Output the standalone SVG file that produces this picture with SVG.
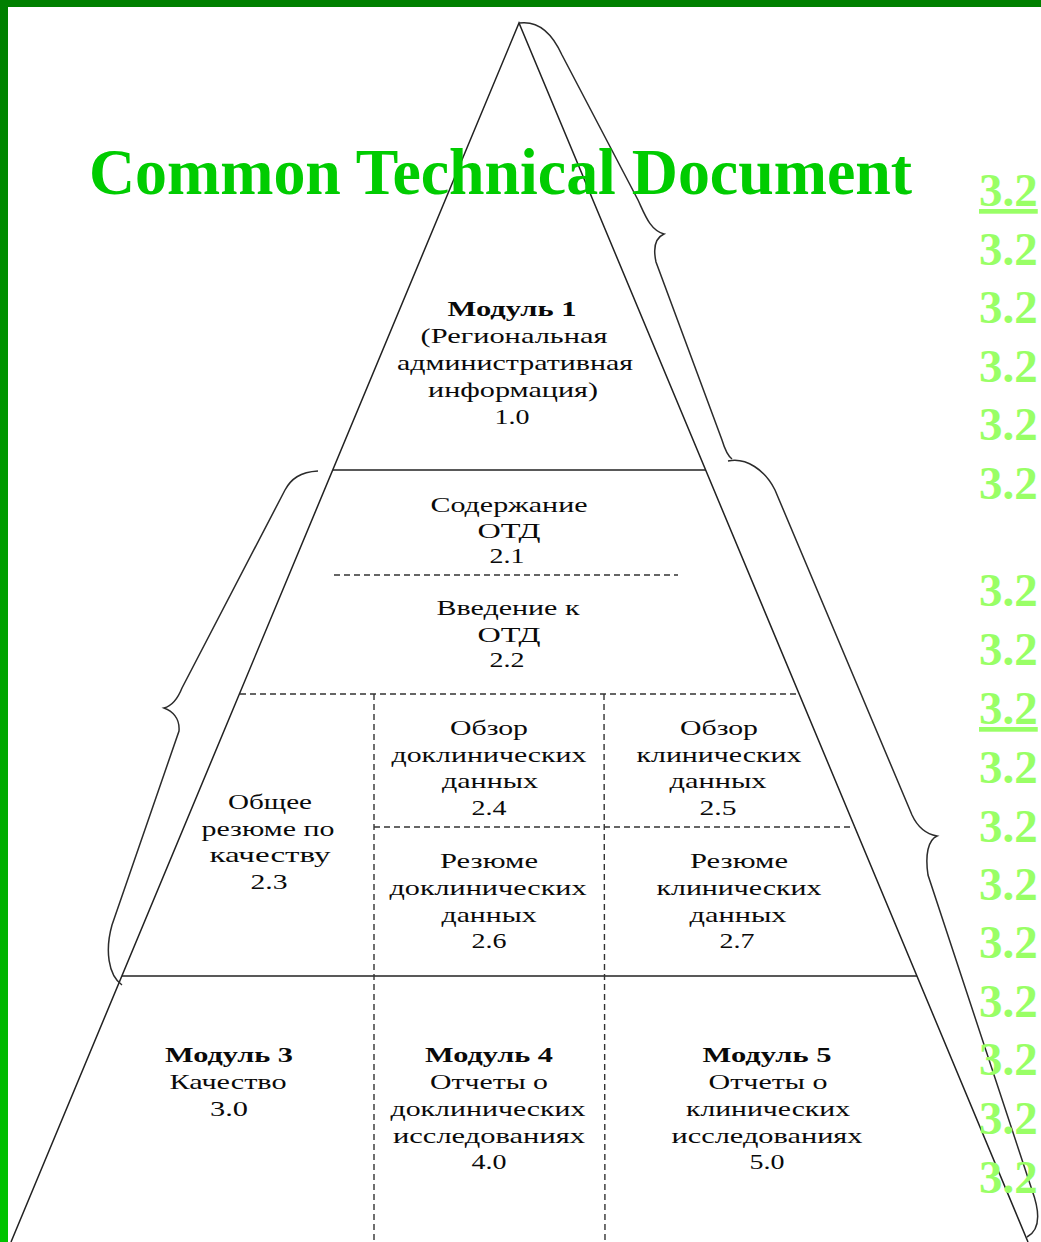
<svg xmlns="http://www.w3.org/2000/svg" width="1041" height="1242" viewBox="0 0 1041 1242">
  <defs>
    <linearGradient id="leftBar" x1="0" y1="0" x2="0" y2="1">
      <stop offset="0" stop-color="#007F00"/>
      <stop offset="1" stop-color="#00C400"/>
    </linearGradient>
    <style>
      .ln { fill: none; stroke: #222; stroke-width: 1.5; }
      .ds { fill: none; stroke: #333; stroke-width: 1.4; stroke-dasharray: 6 4; }
      .br { fill: none; stroke: #2b2b2b; stroke-width: 1.5; }
      .t { font-family: "Liberation Serif", "Times New Roman", serif; font-size: 21px; fill: #0a0a0a; text-anchor: middle; }
      .b { font-weight: bold; }
      .title { font-family: "Liberation Serif", "Times New Roman", serif; font-size: 66px; font-weight: bold; fill: #00CC00; }
      .sec { font-family: "Liberation Serif", "Times New Roman", serif; font-size: 47px; font-weight: bold; fill: #99FF66; }
    </style>
  </defs>

  <rect x="0" y="0" width="1041" height="1242" fill="#ffffff"/>

  <g id="frame">
    <rect x="0" y="0" width="1041" height="7" fill="#008000"/>
    <rect x="0" y="0" width="8" height="1242" fill="url(#leftBar)"/>
  </g>

  <g id="connectors">
    <polyline class="ln" points="11,1242 519,23 1028,1242"/>
    <line class="ln" x1="333" y1="470" x2="706" y2="470"/>
    <line class="ds" x1="334" y1="575" x2="678" y2="575"/>
    <line class="ds" x1="240" y1="694" x2="799" y2="694"/>
    <line class="ds" x1="374" y1="827" x2="855" y2="827"/>
    <line class="ln" x1="122" y1="976" x2="917" y2="976"/>
    <line class="ds" x1="374" y1="694" x2="374" y2="1242"/>
    <line class="ds" x1="604" y1="694" x2="605" y2="1242"/>
    <path id="brace-left" class="br" d="M 318 471 C 300 472, 291 479, 285 490 L 182 688 C 178 698, 172 706, 164 708 C 172 711, 180 718, 179 731 L 112 925 C 105 950, 108 975, 122 985"/>
    <path id="brace-right-top" class="br" d="M 519 23 C 540 20, 553 35, 562 55 L 638 200 C 645 215, 650 230, 664 234 C 655 238, 653 248, 656 262 L 722 440 C 725 450, 728 456, 732 459"/>
    <path id="brace-right-bottom" class="br" d="M 728 461 C 746 457, 765 470, 775 490 L 912 815 C 918 828, 926 834, 937 836 C 928 840, 925 855, 928 875 L 1032 1190 C 1040 1212, 1040 1230, 1027 1237"/>
  </g>

  <g id="title">
    <text class="title" x="89" y="194" textLength="823" lengthAdjust="spacingAndGlyphs">Common Technical Document</text>
  </g>

  <g id="module1">
    <text class="t b" x="512" y="316" textLength="129" lengthAdjust="spacingAndGlyphs">Модуль 1</text>
    <text class="t" x="514" y="343" textLength="187" lengthAdjust="spacingAndGlyphs">(Региональная</text>
    <text class="t" x="515" y="370" textLength="236" lengthAdjust="spacingAndGlyphs">административная</text>
    <text class="t" x="513" y="397" textLength="170" lengthAdjust="spacingAndGlyphs">информация)</text>
    <text class="t" x="512" y="424" textLength="35" lengthAdjust="spacingAndGlyphs">1.0</text>
  </g>

  <g id="ctd-2-1">
    <text class="t" x="509" y="512" textLength="157" lengthAdjust="spacingAndGlyphs">Содержание</text>
    <text class="t" x="509" y="538" textLength="63" lengthAdjust="spacingAndGlyphs">ОТД</text>
    <text class="t" x="507" y="563" textLength="35" lengthAdjust="spacingAndGlyphs">2.1</text>
  </g>

  <g id="ctd-2-2">
    <text class="t" x="508" y="615" textLength="143" lengthAdjust="spacingAndGlyphs">Введение к</text>
    <text class="t" x="509" y="642" textLength="63" lengthAdjust="spacingAndGlyphs">ОТД</text>
    <text class="t" x="507" y="667" textLength="35" lengthAdjust="spacingAndGlyphs">2.2</text>
  </g>

  <g id="ctd-2-3">
    <text class="t" x="270" y="809" textLength="84" lengthAdjust="spacingAndGlyphs">Общее</text>
    <text class="t" x="268" y="836" textLength="133" lengthAdjust="spacingAndGlyphs">резюме по</text>
    <text class="t" x="270" y="862" textLength="121" lengthAdjust="spacingAndGlyphs">качеству</text>
    <text class="t" x="269" y="889" textLength="37" lengthAdjust="spacingAndGlyphs">2.3</text>
  </g>

  <g id="ctd-2-4">
    <text class="t" x="489" y="735" textLength="78" lengthAdjust="spacingAndGlyphs">Обзор</text>
    <text class="t" x="489" y="762" textLength="195" lengthAdjust="spacingAndGlyphs">доклинических</text>
    <text class="t" x="490" y="788" textLength="96" lengthAdjust="spacingAndGlyphs">данных</text>
    <text class="t" x="489" y="815" textLength="35" lengthAdjust="spacingAndGlyphs">2.4</text>
  </g>

  <g id="ctd-2-5">
    <text class="t" x="719" y="735" textLength="78" lengthAdjust="spacingAndGlyphs">Обзор</text>
    <text class="t" x="719" y="762" textLength="165" lengthAdjust="spacingAndGlyphs">клинических</text>
    <text class="t" x="718" y="788" textLength="97" lengthAdjust="spacingAndGlyphs">данных</text>
    <text class="t" x="718" y="815" textLength="37" lengthAdjust="spacingAndGlyphs">2.5</text>
  </g>

  <g id="ctd-2-6">
    <text class="t" x="489" y="868" textLength="98" lengthAdjust="spacingAndGlyphs">Резюме</text>
    <text class="t" x="488" y="895" textLength="197" lengthAdjust="spacingAndGlyphs">доклинических</text>
    <text class="t" x="489" y="922" textLength="95" lengthAdjust="spacingAndGlyphs">данных</text>
    <text class="t" x="489" y="948" textLength="35" lengthAdjust="spacingAndGlyphs">2.6</text>
  </g>

  <g id="ctd-2-7">
    <text class="t" x="739" y="868" textLength="98" lengthAdjust="spacingAndGlyphs">Резюме</text>
    <text class="t" x="739" y="895" textLength="165" lengthAdjust="spacingAndGlyphs">клинических</text>
    <text class="t" x="738" y="922" textLength="97" lengthAdjust="spacingAndGlyphs">данных</text>
    <text class="t" x="737" y="948" textLength="35" lengthAdjust="spacingAndGlyphs">2.7</text>
  </g>

  <g id="module3">
    <text class="t b" x="229" y="1062" textLength="128" lengthAdjust="spacingAndGlyphs">Модуль 3</text>
    <text class="t" x="228" y="1089" textLength="117" lengthAdjust="spacingAndGlyphs">Качество</text>
    <text class="t" x="229" y="1116" textLength="38" lengthAdjust="spacingAndGlyphs">3.0</text>
  </g>

  <g id="module4">
    <text class="t b" x="489" y="1062" textLength="128" lengthAdjust="spacingAndGlyphs">Модуль 4</text>
    <text class="t" x="489" y="1089" textLength="118" lengthAdjust="spacingAndGlyphs">Отчеты о</text>
    <text class="t" x="488" y="1116" textLength="195" lengthAdjust="spacingAndGlyphs">доклинических</text>
    <text class="t" x="489" y="1143" textLength="192" lengthAdjust="spacingAndGlyphs">исследованиях</text>
    <text class="t" x="489" y="1169" textLength="35" lengthAdjust="spacingAndGlyphs">4.0</text>
  </g>

  <g id="module5">
    <text class="t b" x="767" y="1062" textLength="129" lengthAdjust="spacingAndGlyphs">Модуль 5</text>
    <text class="t" x="768" y="1089" textLength="119" lengthAdjust="spacingAndGlyphs">Отчеты о</text>
    <text class="t" x="768" y="1116" textLength="164" lengthAdjust="spacingAndGlyphs">клинических</text>
    <text class="t" x="767" y="1143" textLength="191" lengthAdjust="spacingAndGlyphs">исследованиях</text>
    <text class="t" x="767" y="1169" textLength="35" lengthAdjust="spacingAndGlyphs">5.0</text>
  </g>

  <g id="section-list">
    <text class="sec" x="979" y="206" text-decoration="underline">3.2</text>
    <text class="sec" x="979" y="265">3.2</text>
    <text class="sec" x="979" y="323">3.2</text>
    <text class="sec" x="979" y="382">3.2</text>
    <text class="sec" x="979" y="440">3.2</text>
    <text class="sec" x="979" y="499">3.2</text>
    <text class="sec" x="979" y="606">3.2</text>
    <text class="sec" x="979" y="665">3.2</text>
    <text class="sec" x="979" y="724" text-decoration="underline">3.2</text>
    <text class="sec" x="979" y="783">3.2</text>
    <text class="sec" x="979" y="842">3.2</text>
    <text class="sec" x="979" y="900">3.2</text>
    <text class="sec" x="979" y="958">3.2</text>
    <text class="sec" x="979" y="1017">3.2</text>
    <text class="sec" x="979" y="1075">3.2</text>
    <text class="sec" x="979" y="1134">3.2</text>
    <text class="sec" x="979" y="1193">3.2</text>
  </g>
</svg>
